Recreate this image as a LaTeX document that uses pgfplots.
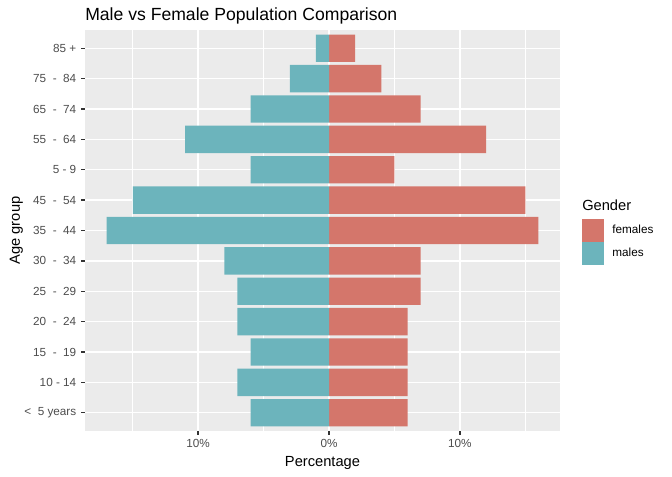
\documentclass[border=0pt]{standalone}
\usepackage{fontspec}
\setmainfont{Liberation Sans}
\usepackage{pgfplots}
\pgfplotsset{compat=1.18}
\definecolor{fem}{RGB}{212,118,107}
\definecolor{mal}{RGB}{108,180,188}
\definecolor{panelbg}{RGB}{235,235,235}
\definecolor{tickc}{RGB}{51,51,51}
\definecolor{labc}{RGB}{77,77,77}
\begin{document}
\begin{tikzpicture}
\begin{axis}[
  name=ax, at={(0,0)}, anchor=south west,
  scale only axis, width=356.25pt, height=300.75pt,
  xmin=-18.65, xmax=17.65, ymin=-0.6, ymax=12.6,
  axis background/.style={fill=panelbg},
  axis line style={draw=none},
  tick pos=lower,
  tick align=outside,
  major tick length=2.75pt,
  minor tick length=0pt,
  every tick/.style={tickc, line width=1.07pt},
  xtick={-10,0,10}, xticklabels={10\%,0\%,10\%},
  minor xtick={-15,-5,5,15},
  ytick={0,...,12},
  yticklabels={{<\ \ 5 years},{10 - 14},{15\ \ -\ \ 19},{20\ \ -\ \ 24},{25\ \ -\ \ 29},{30\ \ -\ \ 34},{35\ \ -\ \ 44},{45\ \ -\ \ 54},{5 - 9},{55\ \ -\ \ 64},{65\ \ -\ \ 74},{75\ \ -\ \ 84},{85 +}},
  grid=both,
  major grid style={white, line width=1.07pt},
  minor grid style={white, line width=0.53pt},
  ticklabel style={text=labc, font=\fontsize{8.8}{10}\selectfont},
  xticklabel style={inner sep=0pt, yshift=-3.2pt},
  yticklabel style={inner sep=0pt, xshift=-3.6pt},
  xlabel={Percentage}, ylabel={Age group},
  xlabel style={font=\fontsize{11}{13}\selectfont, inner sep=0pt, at={(axis description cs:0.5,-0.08811)}, anchor=base},
  ylabel style={font=\fontsize{11}{13}\selectfont, inner sep=0pt, at={(axis description cs:-0.13726,0.5)}, anchor=base, rotate=0},
  legend style={draw=none, fill=none, inner sep=0pt, outer sep=0pt,
    at={(axis description cs:1.04632,0.52798)}, anchor=north west,
    row sep=0.45pt, column sep=0pt,
    nodes={inner sep=0pt, font=\fontsize{8.8}{10}\selectfont},
    /tikz/every odd column/.append style={column sep=6pt}},
  legend cell align=left,
]
\addplot[xbar, bar width=0.9, bar shift=0pt, draw=none, fill=fem,
  legend image code/.code={\fill[fem] (0pt,-8.4pt) rectangle (16.8pt,8.4pt);}]
  coordinates {(6,0) (6,1) (6,2) (6,3) (7,4) (7,5) (16,6) (15,7) (5,8) (12,9) (7,10) (4,11) (2,12)};
\addlegendentry{females}
\addplot[xbar, bar width=0.9, bar shift=0pt, draw=none, fill=mal,
  legend image code/.code={\fill[mal] (0pt,-8.4pt) rectangle (16.8pt,8.4pt);}]
  coordinates {(-6,0) (-7,1) (-6,2) (-7,3) (-7,4) (-8,5) (-17,6) (-15,7) (-6,8) (-11,9) (-6,10) (-3,11) (-1,12)};
\addlegendentry{males}
\end{axis}
\node[anchor=base west, inner sep=0pt, font=\fontsize{13.2}{15}\selectfont] at (0pt,307.5pt) {Male vs Female Population Comparison};
\node[anchor=base west, inner sep=0pt, font=\fontsize{11}{13}\selectfont] at (372.75pt,165.4pt) {Gender};
\pgfresetboundingbox
\path (-63.75pt,-33.75pt) rectangle (440.25pt,323.25pt);
\end{tikzpicture}
\end{document}
